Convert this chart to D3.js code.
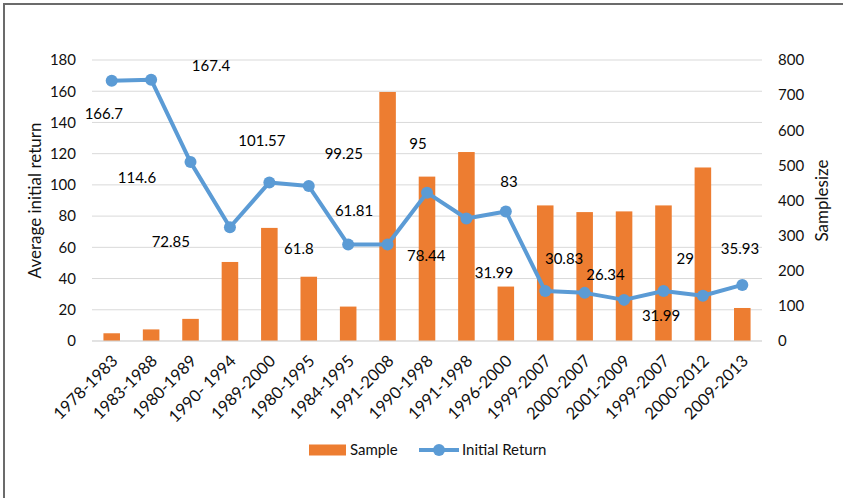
<!DOCTYPE html>
<html>
<head>
<meta charset="utf-8">
<script src="https://cdn.jsdelivr.net/npm/d3@7"></script>
<style>
	body { margin: 0; background: #fff; }
	text { font-family: Lato, "Open Sans", sans-serif; }
</style>
</head>
<body>
<svg id="chart" width="843" height="498" viewBox="0 0 843 498"></svg>
<script>
const periods = ["1978-1983", "1983-1988", "1980-1989", "1990- 1994", "1989-2000", "1980-1995", "1984-1995",
	"1991-2008", "1990-1998", "1991-1998", "1996-2000", "1999-2007", "2000-2007", "2001-2009", "1999-2007",
	"2000-2012", "2009-2013"];
const sampleSize = [22, 33, 63, 225, 322, 183, 98, 709, 468, 538, 155, 386, 367, 369, 386, 494, 94];
const initialReturn = [166.7, 167.4, 114.6, 72.85, 101.57, 99.25, 61.81, 61.8, 95, 78.44, 83, 31.99, 30.83,
	26.34, 31.99, 29, 35.93];
// where each data label sits, as [category position, left-axis value]
const labelAnchors = [[-0.2, 145.4], [2.52, 176.6], [0.64, 104.6], [1.5, 63.6], [3.81, 128.3], [5.89, 120.2],
	[6.15, 83.5], [4.75, 59.4], [7.77, 126.6], [7.98, 54.5], [10.08, 102], [9.7, 43.8], [11.48, 52.5],
	[12.53, 42.7], [13.94, 16], [14.55, 53], [15.94, 58.9]];
const leftTicks = [0, 20, 40, 60, 80, 100, 120, 140, 160, 180];
const rightTicks = [0, 100, 200, 300, 400, 500, 600, 700, 800];

const orange = "#ED7D31";
const blue = "#5B9BD5";
const textColor = "#111";

const svg = d3.select("#chart");
svg.append("rect").attr("width", 843).attr("height", 498).attr("fill", "#fff");

// frame (only top and left edges are visible in the crop)
svg.append("path")
	.attr("d", "M4,498V4H843")
	.attr("fill", "none")
	.attr("stroke", "#6b6b6b")
	.attr("stroke-width", 2);

const plotLeft = 92, plotRight = 762, plotTop = 60, plotBottom = 341;

const x = d3.scaleBand()
	.domain(d3.range(periods.length))
	.range([plotLeft, plotRight])
	.paddingInner(0.58)
	.paddingOuter(0.29);
const step = x.step();
const xPos = p => plotLeft + (p + 0.5) * step;

const yLeft = d3.scaleLinear().domain([0, 180]).range([plotBottom, plotTop]);
const yRight = d3.scaleLinear().domain([0, 800]).range([plotBottom, plotTop]);

// gridlines
svg.append("g")
	.selectAll("line")
	.data(leftTicks)
	.join("line")
	.attr("x1", plotLeft)
	.attr("x2", plotRight)
	.attr("y1", d => yLeft(d))
	.attr("y2", d => yLeft(d))
	.attr("stroke", "#d9d9d9")
	.attr("stroke-width", 1);

// left axis
const leftAxis = svg.append("g")
	.attr("transform", `translate(${plotLeft - 16},0)`)
	.call(d3.axisLeft(yLeft).tickValues(leftTicks).tickSize(0).tickPadding(0));
leftAxis.select(".domain").remove();
leftAxis.selectAll("text").attr("font-size", 15).attr("fill", textColor).attr("font-family", "Lato");

// right axis
const rightAxis = svg.append("g")
	.attr("transform", `translate(${plotRight + 16},0)`)
	.call(d3.axisRight(yRight).tickValues(rightTicks).tickSize(0).tickPadding(0));
rightAxis.select(".domain").remove();
rightAxis.selectAll("text").attr("font-size", 15).attr("fill", textColor).attr("font-family", "Lato");

// bars
svg.append("g")
	.selectAll("rect")
	.data(sampleSize)
	.join("rect")
	.attr("x", (d, i) => x(i))
	.attr("width", x.bandwidth())
	.attr("y", d => yRight(d))
	.attr("height", d => yRight(0) - yRight(d))
	.attr("fill", orange);

// baseline
svg.append("line")
	.attr("x1", plotLeft).attr("x2", plotRight)
	.attr("y1", plotBottom).attr("y2", plotBottom)
	.attr("stroke", "#d9d9d9");

// category labels
svg.append("g")
	.selectAll("text")
	.data(periods)
	.join("text")
	.attr("transform", (d, i) => `translate(${x(i) + x.bandwidth() / 2 + 3},${plotBottom + 17}) rotate(-45)`)
	.attr("text-anchor", "end")
	.attr("dy", "0.35em")
	.attr("font-size", 16.5)
	.attr("fill", textColor)
	.text(d => d);

// line
const line = d3.line()
	.x((d, i) => x(i) + x.bandwidth() / 2)
	.y(d => yLeft(d));
svg.append("path")
	.datum(initialReturn)
	.attr("d", line)
	.attr("fill", "none")
	.attr("stroke", blue)
	.attr("stroke-width", 4)
	.attr("stroke-linejoin", "round");
svg.append("g")
	.selectAll("circle")
	.data(initialReturn)
	.join("circle")
	.attr("cx", (d, i) => x(i) + x.bandwidth() / 2)
	.attr("cy", d => yLeft(d))
	.attr("r", 6)
	.attr("fill", blue);

// data labels
svg.append("g")
	.selectAll("text")
	.data(initialReturn)
	.join("text")
	.attr("x", (d, i) => xPos(labelAnchors[i][0]))
	.attr("y", (d, i) => yLeft(labelAnchors[i][1]))
	.attr("text-anchor", "middle")
	.attr("dy", "0.35em")
	.attr("font-size", 15)
	.attr("fill", "#000")
	.text(d => d);

// axis titles
svg.append("text")
	.attr("transform", `translate(35,${(plotTop + plotBottom) / 2}) rotate(-90)`)
	.attr("text-anchor", "middle")
	.attr("dy", "0.35em")
	.attr("font-size", 17)
	.attr("fill", textColor)
	.text("Average initial return");
svg.append("text")
	.attr("transform", `translate(822,${(plotTop + plotBottom) / 2}) rotate(-90)`)
	.attr("text-anchor", "middle")
	.attr("dy", "0.35em")
	.attr("font-size", 17)
	.attr("fill", textColor)
	.text("Samplesize");

// legend
const legend = svg.append("g").attr("transform", "translate(309,450)");
legend.append("rect")
	.attr("x", 0).attr("y", -5.5)
	.attr("width", 37).attr("height", 11)
	.attr("fill", orange);
legend.append("text")
	.attr("x", 41).attr("dy", "0.35em")
	.attr("font-size", 15)
	.attr("fill", textColor)
	.text("Sample");
legend.append("line")
	.attr("x1", 110).attr("x2", 150)
	.attr("stroke", blue).attr("stroke-width", 4);
legend.append("circle")
	.attr("cx", 130).attr("r", 6)
	.attr("fill", blue);
legend.append("text")
	.attr("x", 153).attr("dy", "0.35em")
	.attr("font-size", 15)
	.attr("fill", textColor)
	.text("Initial Return");
</script>
</body>
</html>
